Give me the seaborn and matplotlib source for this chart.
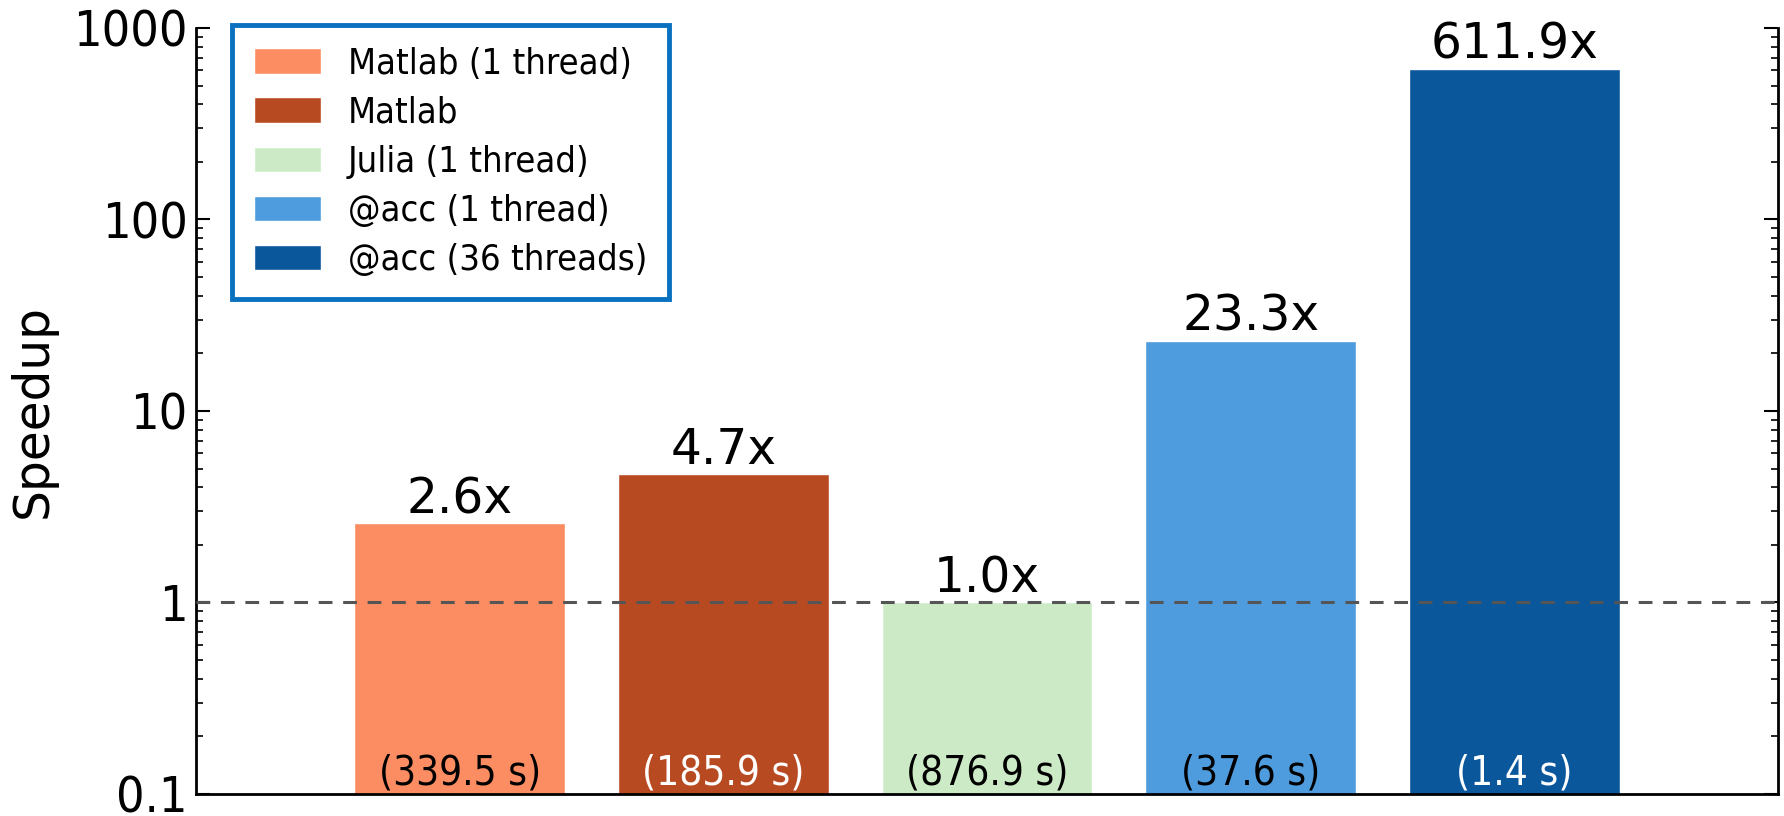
import numpy as np
import pandas as pd
import matplotlib
matplotlib.use('Agg')
import matplotlib.pyplot as plt
import matplotlib.ticker as mticker
import seaborn as sns

# data
versions = ['Matlab (1 thread)', 'Matlab', 'Julia (1 thread)', '@acc (1 thread)', '@acc (36 threads)']
speedup = [2.6, 4.7, 1.0, 23.3, 611.9]
runtime = ['(339.5 s)', '(185.9 s)', '(876.9 s)', '(37.6 s)', '(1.4 s)']
colors = ['#fc8d62', '#b84a22', '#cdeac6', '#4e9cde', '#0a579c']
time_color = ['black', 'white', 'black', 'black', 'white']

df = pd.DataFrame({'version': versions, 'speedup': speedup})

sns.set_style('ticks', rc={'text.color': 'black', 'axes.labelcolor': 'black',
                           'ytick.color': 'black', 'axes.edgecolor': 'black'})
plt.rcParams['font.family'] = ['DejaVu Sans']

fig = plt.figure(figsize=(17.84, 8.16), dpi=100)
ax = fig.add_axes([0.1099, 0.027, 0.8867, 0.9387])

sns.barplot(data=df, x='version', y='speedup', hue='version', palette=colors,
            dodge=False, width=0.8, legend=False, ax=ax, saturation=1)
ax.set_yscale('log')
ax.set_ylim(0.1, 1000)
ax.set_xlim(-1, 5)

# dashed baseline at 1, drawn over the bars
ax.axhline(1, color='#555555', ls=(0, (4.5, 3.5)), lw=2.2, zorder=3)

# labels above and inside bars
for i, (s, t) in enumerate(zip(speedup, runtime)):
    ax.text(i, s, f'{s:.1f}x', ha='center', va='bottom', fontsize=35)
    ax.text(i, 0.101, t, ha='center', va='bottom', fontsize=29,
            color=time_color[i], fontstretch='condensed')

# axes styling
ax.spines['top'].set_visible(False)
for sp in ['left', 'right', 'bottom']:
    ax.spines[sp].set_linewidth(2)
ax.set_xticks([])
ax.set_xlabel('')
ax.set_ylabel('Speedup', fontsize=35, labelpad=12)
ax.yaxis.set_ticks_position('both')
ax.tick_params(axis='y', which='major', direction='in', length=10, width=1.5,
               labelsize=36, pad=6)
ax.tick_params(axis='y', which='minor', direction='in', length=5, width=1.2)
ax.yaxis.set_major_locator(mticker.FixedLocator([0.1, 1, 10, 100, 1000]))
ax.yaxis.set_major_formatter(mticker.FixedFormatter(['0.1', '1', '10', '100', '1000']))
ax.yaxis.set_minor_locator(mticker.LogLocator(base=10, subs=np.arange(2, 10)))
for lbl in ax.get_yticklabels():
    lbl.set_fontstretch('condensed')

# legend
handles = [c for c in ax.patches[:len(versions)]]
leg = ax.legend(handles, versions, loc='upper left', bbox_to_anchor=(0.023, 1.004),
                fontsize=26, frameon=True, fancybox=False, framealpha=1,
                handlelength=1.85, handleheight=0.7, labelspacing=0.42,
                borderpad=0.6, handletextpad=0.75, borderaxespad=0)
leg.get_frame().set_edgecolor('#0a70c0')
leg.get_frame().set_linewidth(3.5)
for t in leg.get_texts():
    t.set_fontstretch('condensed')

fig.savefig('out.png', dpi=100)
